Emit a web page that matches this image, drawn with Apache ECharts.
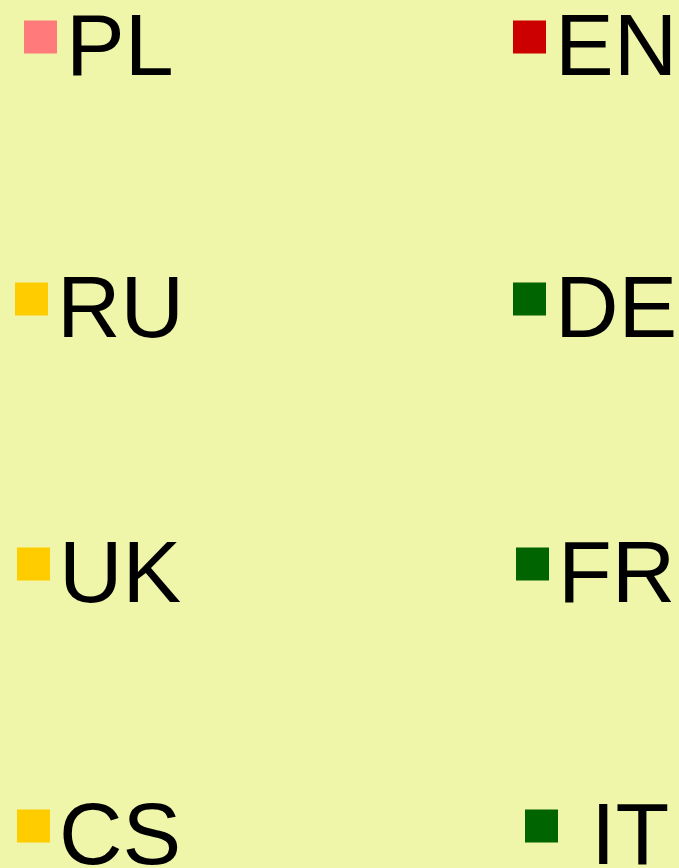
<!DOCTYPE html>
<html>
<head>
<meta charset="utf-8">
<title>legend</title>
<script src="https://cdn.jsdelivr.net/npm/echarts@6/dist/echarts.min.js"></script>
<style>
  html, body { margin: 0; padding: 0; background: #eff5a9; }
  #main { width: 679px; height: 868px; }
</style>
</head>
<body>
<div id="main"></div>
<script>
// 图例项目（语言代码）
const names = ["PL", "EN", "RU", "DE", "UK", "FR", "CS", "IT"];
const colors = ["#ff7b7b", "#cc0000", "#ffcc00", "#006400", "#ffcc00", "#006400", "#ffcc00", "#006400"];

// 每个图例的位置（图标左边 / 图标中心）
const spots = [
  [24, 37], [513, 37],
  [15, 299], [513, 299],
  [17, 564], [516, 564],
  [17, 826], [525, 826],
];

const chart = echarts.init(document.getElementById("main"), null, { renderer: "canvas" });

const legends = names.map(function (name, i) {
  return {
    data: [name],
    left: spots[i][0],
    top: spots[i][1] - 30,
    padding: 0,
    icon: "rect",
    itemWidth: 33,
    itemHeight: 33,
    selectedMode: false,
    formatter: "{t|{name}}",
    textStyle: {
      rich: {
        t: {
          fontFamily: "Liberation Sans",
          fontSize: 88,
          color: "#000",
          padding: [28, 0, 0, name === "IT" ? 28 : 4],
        },
      },
    },
  };
});

const option = {
  backgroundColor: "#eff5a9",
  animation: false,
  legend: legends,
  grid: { show: false },
  xAxis: { type: "category", show: false, data: [] },
  yAxis: { type: "value", show: false },
  series: names.map(function (name, i) {
    return {
      name: name,
      type: "line",
      data: [],
      itemStyle: { color: colors[i] },
      lineStyle: { color: colors[i] },
    };
  }),
};
chart.setOption(option);
</script>
</body>
</html>
